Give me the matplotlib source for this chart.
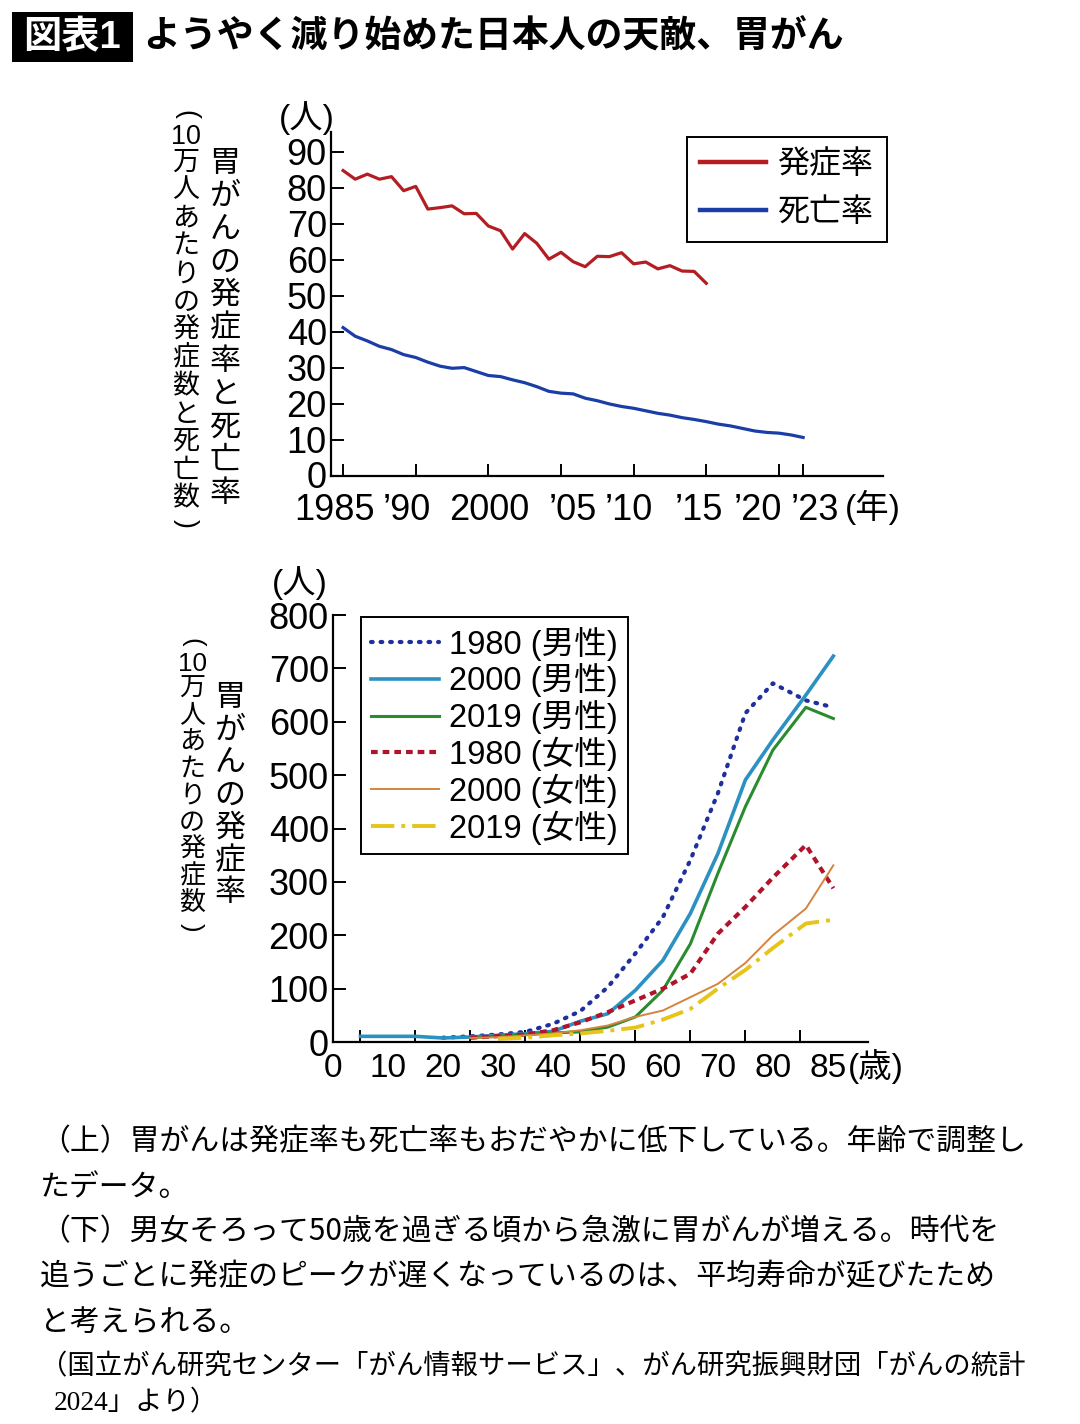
import matplotlib
matplotlib.use("Agg")
import matplotlib.pyplot as plt
import matplotlib.transforms as mtransforms
import numpy as np
from matplotlib.patches import Rectangle

plt.rcParams['font.family'] = ['Liberation Sans', 'Noto Sans CJK JP', 'DejaVu Sans']

W, H = 1080, 1424

# ---- data: top chart (per 100,000, age adjusted)
years_inc = list(range(1985, 2016))
incidence = [84.8, 82.4, 83.8, 82.4, 83.1, 79.2, 80.4, 74.1, 74.5, 75.0,
             72.8, 72.9, 69.4, 68.1, 63.0, 67.3, 64.6, 60.2, 62.1, 59.5,
             58.1, 61.0, 60.9, 62.0, 58.9, 59.4, 57.5, 58.4, 56.9, 56.8, 53.5]
years_mort = list(range(1985, 2024))
mortality = [41.2, 38.8, 37.5, 36.0, 35.1, 33.7, 32.9, 31.6, 30.5, 29.9,
             30.1, 29.0, 27.9, 27.6, 26.7, 25.9, 24.8, 23.5, 23.0, 22.8,
             21.6, 20.9, 20.0, 19.3, 18.8, 18.1, 17.4, 16.9, 16.2, 15.7,
             15.1, 14.4, 13.9, 13.2, 12.5, 12.1, 11.9, 11.4, 10.7]
top_tick_years = [1985, 1991, 1997, 2003, 2009, 2015, 2021, 2023]
top_label_years = [1984.3, 1990.3, 1997.1, 2004.0, 2008.6, 2014.4, 2019.3, 2024.0]
top_tick_labels = ["1985", "’90", "2000", "’05", "’10", "’15", "’20", "’23"]

# ---- data: bottom chart (age specific incidence)
ages = [5, 10, 15, 20, 25, 30, 35, 40, 45, 50, 55, 60, 65, 70, 75, 80, 86, 91]
nan = np.nan
m1980 = [nan, nan, nan, 8, 10.6, 14, 19, 34, 58, 103, 166, 234, 341, 466, 616, 672, 640, 627]
m2000 = [10.6, 10.6, 10.6, 7.5, 9.4, 12.5, 15.6, 20, 39, 53, 97, 153, 241, 353, 491, 566, 650, 723]
m2019 = [nan, nan, nan, nan, 8, 11, 14, 17, 19, 28, 47, 97, 184, 316, 441, 547, 627, 606]
f1980 = [nan, nan, nan, nan, 8, 11, 14, 22, 37, 56, 78, 100, 128, 203, 253, 308, 369, 288]
f2000 = [nan, nan, nan, nan, 7.5, 9, 12.5, 16, 22, 31, 47, 59, 84, 109, 148, 200, 250, 331]
f2019 = [nan, nan, nan, nan, nan, 6, 8, 12.5, 16, 21, 27, 42, 62, 100, 135, 176, 222, 229]
age_ticks = list(range(5, 95, 5))
age_label_pos = [0, 10, 20, 30, 40, 50, 60, 70, 80, 90]
age_labels = ["0", "10", "20", "30", "40", "50", "60", "70", "80", "85"]


def fx(px):
    return px / W


def fy(py):
    return 1 - py / H


fig = plt.figure(figsize=(W / 100, H / 100), dpi=100)

# title
fig.patches.append(Rectangle((fx(12), fy(62)), fx(121), 50 / H, transform=fig.transFigure,
                             facecolor="black", edgecolor="none"))
fig.text(fx(72), fy(38), "図表1", color="white", fontsize=27.5, fontweight="bold",
         ha="center", va="center")
fig.text(fx(143), fy(38), "ようやく減り始めた日本人の天敵、胃がん", fontsize=26.6,
         fontweight="bold", ha="left", va="center")


def style_axes(ax, size):
    for s in ("top", "right"):
        ax.spines[s].set_visible(False)
    for s in ("left", "bottom"):
        ax.spines[s].set_linewidth(1.6)
    ax.tick_params(axis="both", which="both", direction="in", width=1.4, colors="black",
                   labelsize=size)


# ---- top chart
ax1 = fig.add_axes([fx(331), fy(476), (883 - 331) / W, (476 - 132) / H])
ax1.plot(years_inc, incidence, color="#b41e22", lw=2.3, label="発症率")
ax1.plot(years_mort, mortality, color="#1b3ea6", lw=2.3, label="死亡率")
ax1.set_xlim(1984.0, 2029.6)
ax1.set_ylim(0, 95.5)
style_axes(ax1, 26)
ax1.set_yticks(range(0, 100, 10))
ax1.tick_params(axis="y", length=9, pad=3)
ax1.set_xticks(top_label_years, top_tick_labels)
ax1.set_xticks(top_tick_years, minor=True)
ax1.tick_params(axis="x", which="major", length=0, pad=12)
ax1.tick_params(axis="x", which="minor", length=9)
zero_lab = ax1.yaxis.get_major_ticks()[0].label1
zero_lab.set_transform(zero_lab.get_transform() +
                       mtransforms.ScaledTranslation(0, 0.02, fig.dpi_scale_trans))
leg1 = ax1.legend(loc="upper left", bbox_to_anchor=(fx(687), fy(137)),
                  bbox_transform=fig.transFigure, fontsize=23, frameon=True,
                  fancybox=False, framealpha=1, edgecolor="black", borderaxespad=0,
                  handlelength=2.05, handletextpad=0.35, labelspacing=0.56,
                  borderpad=0.42)
leg1.get_frame().set_linewidth(1.4)
for ln in leg1.get_lines():
    ln.set_linewidth(3.2)

fig.text(fx(307), fy(118), "(人)", fontsize=24, ha="center", va="center")
fig.text(fx(873), fy(507), "(年)", fontsize=24, ha="center", va="center")


def vertical_label(x, y_top, tokens, em, step):
    # stack characters top to bottom (Japanese vertical writing)
    y = y_top
    for tok in tokens:
        if tok in "()":
            h = em * 0.8
            fig.text(fx(x), fy(y + h / 2), tok, fontsize=em * 0.72, rotation=-90,
                     ha="center", va="center")
        elif tok.isdigit():
            h = em * 0.85
            fig.text(fx(x), fy(y + h / 2), tok, fontsize=em * 0.72,
                     ha="center", va="center")
        else:
            h = step
            fig.text(fx(x), fy(y + h / 2), tok, fontsize=em * 0.72,
                     ha="center", va="center")
        y += h


vertical_label(225, 147, list("胃がんの発症率と死亡率"), 31, 33)
vertical_label(186, 104, ["(", "10"] + list("万人あたりの発症数と死亡数") + [")"], 27, 28)

# ---- bottom chart
ax2 = fig.add_axes([fx(333), fy(1042), (868 - 333) / W, (1042 - 615) / H])
ax2.plot(ages, m1980, color="#1f2f9e", lw=3.0, ls=(0, (0.4, 1.9)),
         dash_capstyle="round", label="1980 (男性)")
ax2.plot(ages, m2000, color="#2b91c2", lw=2.6, label="2000 (男性)")
ax2.plot(ages, m2019, color="#2b8b2f", lw=2.2, label="2019 (男性)")
ax2.plot(ages, f1980, color="#b0142b", lw=3.0, ls=(0, (1.6, 1.2)), label="1980 (女性)")
ax2.plot(ages, f2000, color="#d4843f", lw=1.4, label="2000 (女性)")
ax2.plot(ages, f2019, color="#e6c41a", lw=2.8, ls=(0, (6, 1.8, 1, 1.8)), label="2019 (女性)")
ax2.set_xlim(0, 97.3)
ax2.set_ylim(0, 800)
style_axes(ax2, 26)
ax2.set_yticks(range(0, 900, 100))
ax2.tick_params(axis="y", length=9, pad=3)
ax2.set_xticks(age_label_pos, age_labels)
ax2.set_xticks(age_ticks, minor=True)
ax2.tick_params(axis="x", which="major", length=0, pad=8, labelsize=24)
ax2.tick_params(axis="x", which="minor", length=9)
leg2 = ax2.legend(loc="upper left", bbox_to_anchor=(fx(361), fy(617)),
                  bbox_transform=fig.transFigure, fontsize=23.5, frameon=True,
                  fancybox=False, framealpha=1, edgecolor="black", borderaxespad=0,
                  handlelength=2.1, handletextpad=0.3, labelspacing=0.08,
                  borderpad=0.3)
leg2.get_frame().set_linewidth(1.4)

fig.text(fx(300), fy(583), "(人)", fontsize=24, ha="center", va="center")
fig.text(fx(876), fy(1066), "(歳)", fontsize=24, ha="center", va="center")

vertical_label(230, 682, list("胃がんの発症率"), 31, 32.5)
vertical_label(192, 632, ["(", "10"] + list("万人あたりの発症数") + [")"], 26, 26.9)

# ---- captions
caption = [
    "（上）胃がんは発症率も死亡率もおだやかに低下している。年齢で調整し",
    "たデータ。",
    "（下）男女そろって50歳を過ぎる頃から急激に胃がんが増える。時代を",
    "追うごとに発症のピークが遅くなっているのは、平均寿命が延びたため",
    "と考えられる。",
]
for i, line in enumerate(caption):
    fig.text(fx(40), fy(1142 + 45 * i), line, fontsize=21.5, ha="left", va="center",
             family=["Noto Sans CJK JP"])
fig.text(fx(40), fy(1367), "（国立がん研究センター「がん情報サービス」、がん研究振興財団「がんの統計",
         fontsize=19.7, ha="left", va="center", family=["Noto Sans CJK JP"])
fig.text(fx(54), fy(1403), "2024」より）", fontsize=19.7, ha="left", va="center",
         family=["Liberation Serif", "Noto Sans CJK JP"])

fig.savefig("out.png", dpi=100)
